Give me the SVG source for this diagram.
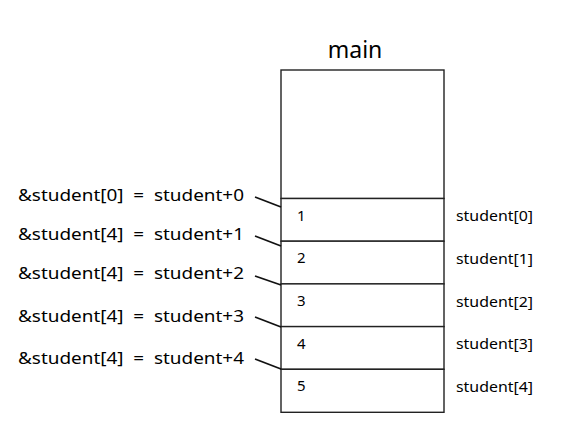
<svg xmlns="http://www.w3.org/2000/svg" width="562" height="436" viewBox="0 0 562 436">
<style>
  text { font-family: "Noto Sans", "Noto Sans CJK KR", sans-serif; fill: #000; }
  .title { font-size: 23px; }
  .addr { font-size: 17px; }
  .val { font-size: 15px; }
  .name { font-size: 15px; }
  .box { fill: #fff; stroke: #222; stroke-width: 1.4; }
  .conn { stroke: #111; stroke-width: 1.8; fill: none; }
</style>
<rect width="562" height="436" fill="#fff"/>
<g id="main">
  <text class="title" x="355" y="58" text-anchor="middle">main</text>
  <rect class="box" x="281" y="70" width="163" height="128.5"/>
</g>
<g id="cell0">
  <rect class="box" x="281" y="198.5" width="163" height="42.7"/>
  <text class="val" x="297" y="221">1</text>
  <text class="name" x="456" y="221" textLength="77" lengthAdjust="spacingAndGlyphs">student[0]</text>
</g>
<g id="cell1">
  <rect class="box" x="281" y="241.2" width="163" height="42.7"/>
  <text class="val" x="297" y="263">2</text>
  <text class="name" x="456" y="264" textLength="77" lengthAdjust="spacingAndGlyphs">student[1]</text>
</g>
<g id="cell2">
  <rect class="box" x="281" y="283.9" width="163" height="42.7"/>
  <text class="val" x="297" y="306">3</text>
  <text class="name" x="456" y="307" textLength="77" lengthAdjust="spacingAndGlyphs">student[2]</text>
</g>
<g id="cell3">
  <rect class="box" x="281" y="326.6" width="163" height="42.7"/>
  <text class="val" x="297" y="349">4</text>
  <text class="name" x="456" y="349" textLength="77" lengthAdjust="spacingAndGlyphs">student[3]</text>
</g>
<g id="cell4">
  <rect class="box" x="281" y="369.3" width="163" height="43"/>
  <text class="val" x="297" y="391">5</text>
  <text class="name" x="456" y="392" textLength="77" lengthAdjust="spacingAndGlyphs">student[4]</text>
</g>
<g id="label0"><text class="addr" x="18" y="201" xml:space="preserve" textLength="226" lengthAdjust="spacingAndGlyphs">&amp;student[0]  =  student+0</text></g>
<g id="label1"><text class="addr" x="18" y="240" xml:space="preserve" textLength="226" lengthAdjust="spacingAndGlyphs">&amp;student[4]  =  student+1</text></g>
<g id="label2"><text class="addr" x="18" y="279" xml:space="preserve" textLength="226" lengthAdjust="spacingAndGlyphs">&amp;student[4]  =  student+2</text></g>
<g id="label3"><text class="addr" x="18" y="322" xml:space="preserve" textLength="226" lengthAdjust="spacingAndGlyphs">&amp;student[4]  =  student+3</text></g>
<g id="label4"><text class="addr" x="18" y="364" xml:space="preserve" textLength="226" lengthAdjust="spacingAndGlyphs">&amp;student[4]  =  student+4</text></g>
<g id="connectors">
  <line class="conn" x1="255" y1="197" x2="281" y2="207"/>
  <line class="conn" x1="255" y1="236" x2="281" y2="246"/>
  <line class="conn" x1="255" y1="276" x2="281" y2="285"/>
  <line class="conn" x1="255" y1="317" x2="281" y2="327"/>
  <line class="conn" x1="255" y1="359" x2="281" y2="369"/>
</g>
</svg>
